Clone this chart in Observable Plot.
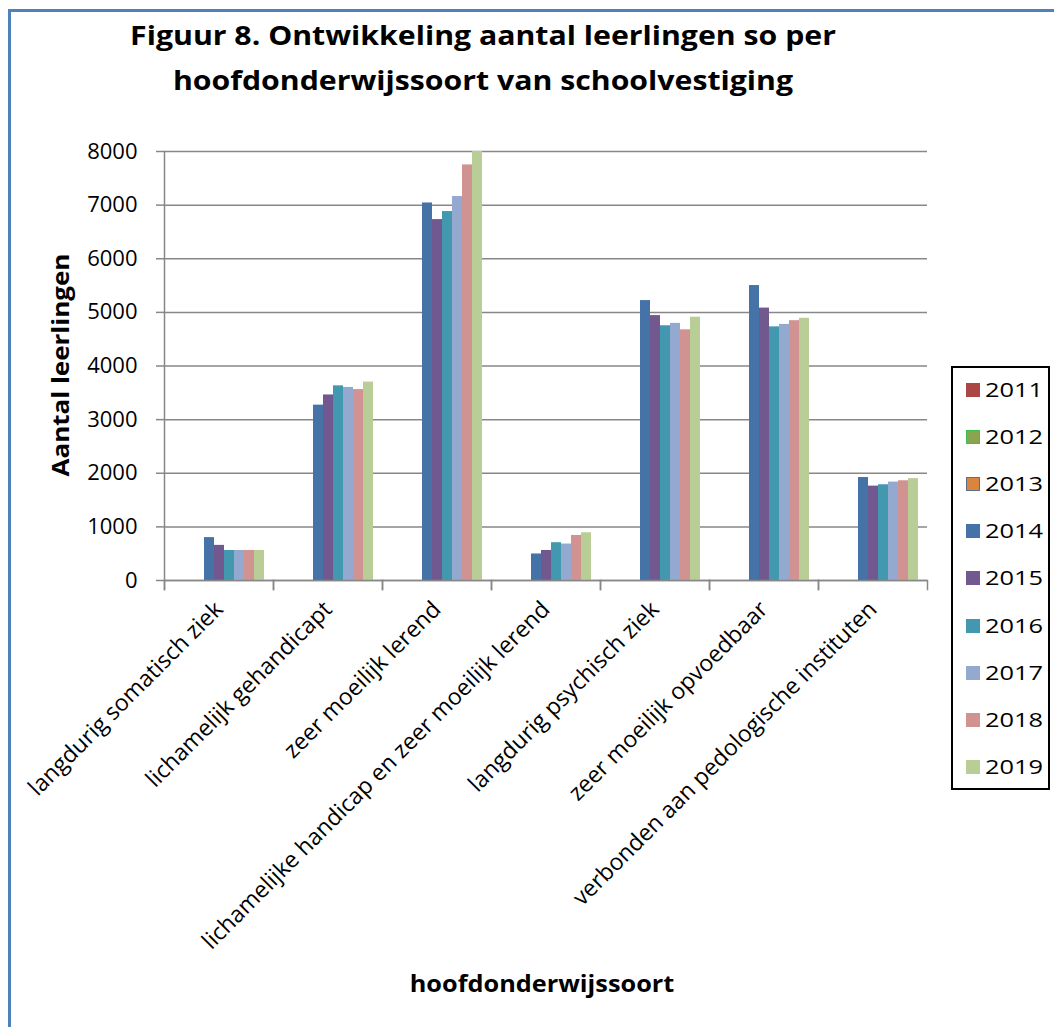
<!DOCTYPE html>
<html>
<head>
<meta charset="utf-8">
<script src="https://cdn.jsdelivr.net/npm/d3@7"></script>
<script src="https://cdn.jsdelivr.net/npm/@observablehq/plot@0.6"></script>
<style>
  body { margin: 0; background: #fff; }
  #wrap { position: relative; width: 1054px; height: 1027px; overflow: hidden; font-family: "Open Sans", sans-serif; color: #000; background: #fff; }
  #border { position: absolute; left: 8px; top: 9px; width: 1200px; height: 1200px; border-left: 3px solid #4F81BD; border-top: 3px solid #4F81BD; }
  #title { position: absolute; left: 0; top: 12px; width: 966px; text-align: center; font-weight: bold; font-size: 27px; line-height: 45px; transform: scaleX(1.12); transform-origin: 483px 0; }
  #xlabel { position: absolute; left: 542px; top: 972px; transform: translateX(-50%) scaleX(1.1); font-weight: bold; font-size: 23px; line-height: 1; white-space: nowrap; }
  #ylabel { position: absolute; left: 60px; top: 365px; transform: translate(-50%, -50%) rotate(-90deg) scaleX(1.13); font-weight: bold; font-size: 23px; line-height: 1; white-space: nowrap; }
  #legend { position: absolute; left: 951px; top: 366px; width: 95px; height: 420px; border: 2px solid #000; background: #fff; }
  .item { position: absolute; left: 0; height: 24px; width: 95px; }
  .sw { position: absolute; left: 13px; top: 5px; width: 14px; height: 14px; box-sizing: border-box; }
  .lt { position: absolute; left: 32px; top: 0; font-size: 20px; line-height: 24px; transform: scaleX(1.27); transform-origin: 0 0; }
  #chart { position: absolute; left: 0; top: 0; }
</style>
</head>
<body>
<div id="wrap">
  <div id="border"></div>
  <div id="chart"></div>
  <div id="title">Figuur 8. Ontwikkeling aantal leerlingen so per<br>hoofdonderwijssoort van schoolvestiging</div>
  <div id="ylabel">Aantal leerlingen</div>
  <div id="xlabel">hoofdonderwijssoort</div>
  <div id="legend"></div>
</div>
<script>
const categories = [
  "langdurig somatisch ziek",
  "lichamelijk gehandicapt",
  "zeer moeilijk lerend",
  "lichamelijke handicap en zeer moeilijk lerend",
  "langdurig psychisch ziek",
  "zeer moeilijk opvoedbaar",
  "verbonden aan pedologische instituten"
];
const years = ["2011", "2012", "2013", "2014", "2015", "2016", "2017", "2018", "2019"];
const colors = ["#AA4643", "#89A54E", "#DB843D", "#4572A7", "#71588F", "#4198AF", "#93A9CF", "#D19392", "#B9CD96"];
const legendBorders = ["#AA4643", "#3CC050", "#5A6E8A", "#4572A7", "#71588F", "#4198AF", "#93A9CF", "#D19392", "#B9CD96"];
const yTicks = [0, 1000, 2000, 3000, 4000, 5000, 6000, 7000, 8000];

const values2011 = [];
const values2012 = [];
const values2013 = [];
const values2014 = [800, 3270, 7040, 495, 5220, 5500, 1920];
const values2015 = [655, 3460, 6730, 560, 4940, 5080, 1760];
const values2016 = [560, 3630, 6880, 705, 4750, 4730, 1785];
const values2017 = [560, 3600, 7160, 680, 4795, 4775, 1835];
const values2018 = [560, 3560, 7750, 840, 4675, 4845, 1860];
const values2019 = [560, 3700, 8000, 890, 4910, 4890, 1900];
const seriesValues = [values2011, values2012, values2013, values2014, values2015, values2016, values2017, values2018, values2019];

const data = [];
years.forEach((yr, j) => {
  categories.forEach((c, i) => {
    const v = seriesValues[j][i];
    if (v != null) data.push({cat: c, year: yr, value: v});
  });
});

const gray = "#878787";
const W = 1054, H = 1027, mL = 163, mR = 127, mT = 151, mB = 447;
const plotH = H - mT - mB;

const chart = Plot.plot({
  width: W,
  height: H,
  marginLeft: mL,
  marginRight: mR,
  marginTop: mT,
  marginBottom: mB,
  style: {fontFamily: "Open Sans, sans-serif", fontSize: "22px", color: "#000", background: "transparent", overflow: "visible"},
  fx: {domain: categories, paddingInner: 0, paddingOuter: 0, label: null},
  x: {domain: years, paddingInner: 0, paddingOuter: 0.75, axis: null},
  y: {domain: [0, 8000], label: null},
  color: {domain: years, range: colors},
  marks: [
    Plot.gridY(yTicks, {stroke: gray, strokeOpacity: 1, strokeWidth: 1.5}),
    Plot.barY(data, {fx: "cat", x: "year", y: "value", fill: "year", inset: 0}),
    Plot.ruleY([0], {stroke: gray, strokeWidth: 1.5}),
    Plot.frame({anchor: "left", insetTop: plotH, insetBottom: -9, stroke: gray, strokeWidth: 1.5}),
    Plot.frame({anchor: "right", insetTop: plotH, insetBottom: -9, stroke: gray, strokeWidth: 1.5}),
    Plot.frame({anchor: "left", facetAnchor: "left", insetBottom: -9, stroke: gray, strokeWidth: 1.5}),
    Plot.axisY(yTicks, {tickSize: 8, tickPadding: 19, stroke: gray, strokeWidth: 1.5, tickFormat: d => String(d), label: null, fill: "#000", fontSize: 22}),
    Plot.axisFx({anchor: "bottom", tickRotate: -45, tickSize: 0, tickPadding: 25, label: null, fill: "#000", fontSize: 23})
  ]
});
document.getElementById("chart").appendChild(chart);

const legend = document.getElementById("legend");
years.forEach((yr, j) => {
  const item = document.createElement("div");
  item.className = "item";
  item.style.top = (10 + 47.1 * j) + "px";
  const sw = document.createElement("div");
  sw.className = "sw";
  sw.style.background = colors[j];
  sw.style.border = "1.5px solid " + legendBorders[j];
  const lt = document.createElement("div");
  lt.className = "lt";
  lt.textContent = yr;
  item.appendChild(sw);
  item.appendChild(lt);
  legend.appendChild(item);
});
</script>
</body>
</html>
